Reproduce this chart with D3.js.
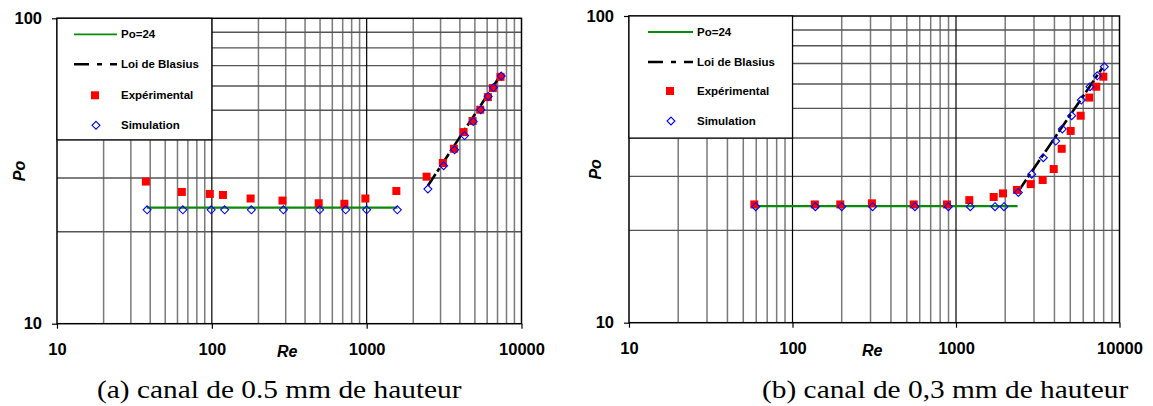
<!DOCTYPE html>
<html>
<head>
<meta charset="utf-8">
<script src="https://cdn.jsdelivr.net/npm/d3@7"></script>
<style>
  body { margin: 0; background: #fff; }
  text { font-family: "Liberation Sans", Arial, sans-serif; }
</style>
</head>
<body>
<svg width="1153" height="406"></svg>
<script>
// (a) canal de 0.5 mm
var expReA = [37.5, 64, 97, 118, 178, 286, 490, 718, 981, 1555, 2438, 3106, 3659, 4225, 4830, 5414, 6062, 6531, 7318];
var expPoA = [29.2, 27.0, 26.6, 26.4, 25.7, 25.3, 24.8, 24.7, 25.7, 27.2, 30.3, 33.6, 37.4, 42.4, 46.1, 50.2, 55.2, 59.1, 64.3];
var simReA = [38.2, 65, 99, 121, 180, 290, 497, 732, 1000, 1578, 2486, 3140, 3698, 4288, 4877, 5460, 6096, 6593, 7396];
var simPoA = [23.6, 23.6, 23.6, 23.6, 23.6, 23.6, 23.6, 23.6, 23.6, 23.6, 27.6, 32.9, 37.1, 41.3, 45.9, 50.2, 55.5, 59.3, 64.7];
var lamReA = [38, 1580], lamPoA = [24, 24];
var blaReA = [2486, 7300], blaPoA = [28.3, 65.0];

// (b) canal de 0,3 mm
var expReB = [58.4, 137, 196, 306, 551, 881, 1206, 1701, 1939, 2361, 2864, 3390, 3960, 4431, 5029, 5790, 6537, 7211, 7962];
var expPoB = [24.3, 24.3, 24.3, 24.5, 24.3, 24.3, 25.1, 25.7, 26.4, 27.1, 28.3, 29.2, 31.7, 36.9, 42.2, 47.3, 54.2, 58.8, 63.4];
var simReB = [59.6, 138, 200, 309, 561, 898, 1223, 1732, 1966, 2404, 2904, 3420, 4073, 4467, 5101, 5840, 6601, 7315, 8075];
var simPoB = [23.9, 23.9, 23.9, 23.9, 23.9, 23.9, 23.9, 23.9, 23.9, 26.6, 30.5, 34.5, 39.1, 42.8, 47.3, 53.2, 58.8, 63.8, 68.3];
var lamReB = [59, 2380], lamPoB = [24, 24];
var blaReB = [2404, 7850], blaPoB = [26.8, 67.7];

var xTicks = [10, 100, 1000, 10000],
    yTicks = [10, 100];
var legendNames = ["Po=24", "Loi de Blasius", "Expérimental", "Simulation"];

var svg = d3.select("svg");

function zip(a, b) {
  return a.map(function(v, i) { return [v, b[i]]; });
}

function drawChart(cfg) {
  var x = d3.scaleLog().domain([10, 10000]).range(cfg.xr),
      y = d3.scaleLog().domain([10, 100]).range(cfg.yr);
  var g = svg.append("g");

  // grid
  g.append("g").selectAll("line")
    .data(x.ticks().filter(function(d) { return xTicks.indexOf(d) < 0; }))
    .enter().append("line")
      .attr("x1", function(d) { return x(d); }).attr("x2", function(d) { return x(d); })
      .attr("y1", cfg.yr[0]).attr("y2", cfg.yr[1])
      .attr("stroke", "#7a7a7a").attr("stroke-width", 1.5);
  g.append("g").selectAll("line")
    .data(y.ticks().filter(function(d) { return yTicks.indexOf(d) < 0; }))
    .enter().append("line")
      .attr("x1", cfg.xr[0]).attr("x2", cfg.xr[1])
      .attr("y1", function(d) { return y(d); }).attr("y2", function(d) { return y(d); })
      .attr("stroke", "#555").attr("stroke-width", 1.4);
  g.append("g").selectAll("line")
    .data([100, 1000])
    .enter().append("line")
      .attr("x1", function(d) { return x(d); }).attr("x2", function(d) { return x(d); })
      .attr("y1", cfg.yr[0]).attr("y2", cfg.yr[1])
      .attr("stroke", "#000").attr("stroke-width", 1.2);

  g.append("rect")
    .attr("x", cfg.xr[0]).attr("y", cfg.yr[1])
    .attr("width", cfg.xr[1] - cfg.xr[0]).attr("height", cfg.yr[0] - cfg.yr[1])
    .attr("fill", "none").attr("stroke", "#000").attr("stroke-width", 1.5);

  // axes
  var ax = g.append("g")
      .attr("transform", "translate(0," + cfg.yr[0] + ")")
      .call(d3.axisBottom(x).tickValues(xTicks).tickFormat(d3.format("d")).tickSize(5).tickPadding(15));
  var ay = g.append("g")
      .attr("transform", "translate(" + cfg.xr[0] + ",0)")
      .call(d3.axisLeft(y).tickValues(yTicks).tickFormat(d3.format("d")).tickSize(5).tickPadding(10));
  [ax, ay].forEach(function(a) {
    a.select(".domain").remove();
    a.selectAll("line").attr("stroke", "#000").attr("stroke-width", 1.2);
    a.selectAll("text")
      .style("font-family", "'Liberation Sans', Arial, sans-serif")
      .style("font-size", "16.5px").style("font-weight", "bold").attr("fill", "#000");
  });

  g.append("text")
    .attr("x", (cfg.xr[0] + cfg.xr[1]) / 2 - 2).attr("y", cfg.yr[0] + 33)
    .attr("text-anchor", "middle")
    .style("font-size", "16px").style("font-weight", "bold").style("font-style", "italic")
    .text("Re");
  g.append("text")
    .attr("transform", "translate(" + cfg.poX + "," + (cfg.yr[0] + cfg.yr[1]) / 2 + ") rotate(-90)")
    .attr("dy", "0.35em")
    .attr("text-anchor", "middle")
    .style("font-size", "16px").style("font-weight", "bold").style("font-style", "italic")
    .text("Po");

  // series
  var line = d3.line()
      .x(function(d) { return x(d[0]); })
      .y(function(d) { return y(d[1]); });

  g.append("path")
    .attr("d", line(zip(cfg.lamRe, cfg.lamPo)))
    .attr("fill", "none").attr("stroke", "#0a8a0a").attr("stroke-width", 2.2);
  g.append("path")
    .attr("d", line(zip(cfg.blaRe, cfg.blaPo)))
    .attr("fill", "none").attr("stroke", "#000").attr("stroke-width", 2.6)
    .attr("stroke-dasharray", "14,3,4,3");

  g.append("g").selectAll("rect")
    .data(zip(cfg.expRe, cfg.expPo))
    .enter().append("rect")
      .attr("x", function(d) { return x(d[0]) - 4; })
      .attr("y", function(d) { return y(d[1]) - 4; })
      .attr("width", 8).attr("height", 8)
      .attr("fill", "#ff0000");

  var diamond = d3.symbol().type(d3.symbolDiamond2).size(40);
  g.append("g").selectAll("path")
    .data(zip(cfg.simRe, cfg.simPo))
    .enter().append("path")
      .attr("d", diamond)
      .attr("transform", function(d) { return "translate(" + x(d[0]) + "," + y(d[1]) + ")"; })
      .attr("fill", "none").attr("stroke", "#0000ff").attr("stroke-width", 1.1);

  // legend
  var lx = x(10), ly = y(100);
  var lg = g.append("g").attr("transform", "translate(" + lx + "," + ly + ")");
  lg.append("rect")
    .attr("width", x(100) - x(10)).attr("height", y(40) - y(100))
    .attr("fill", "#fff").attr("stroke", "#000").attr("stroke-width", 1.2);
  var rows = cfg.legRows;
  lg.append("line")
    .attr("x1", cfg.legLine[0]).attr("x2", cfg.legLine[1]).attr("y1", rows[0]).attr("y2", rows[0])
    .attr("stroke", "#0a8a0a").attr("stroke-width", 1.8);
  lg.append("line")
    .attr("x1", cfg.legLine[0]).attr("x2", cfg.legLine[1]).attr("y1", rows[1]).attr("y2", rows[1])
    .attr("stroke", "#000").attr("stroke-width", 2.6).attr("stroke-dasharray", "15,8,5,8");
  lg.append("rect")
    .attr("x", cfg.legMark - 4).attr("y", rows[2] - 4).attr("width", 8).attr("height", 8)
    .attr("fill", "#ff0000");
  lg.append("path")
    .attr("d", diamond)
    .attr("transform", "translate(" + (cfg.legMark + 1) + "," + rows[3] + ")")
    .attr("fill", "none").attr("stroke", "#0000ff").attr("stroke-width", 1.1);
  lg.selectAll("text.leg")
    .data(legendNames)
    .enter().append("text")
      .attr("class", "leg")
      .attr("x", cfg.legLine[1] + 4)
      .attr("y", function(d, i) { return rows[i]; })
      .attr("dy", "0.36em")
      .style("font-size", "11.5px").style("font-weight", "bold")
      .text(function(d) { return d; });

  svg.append("text")
    .attr("transform", "translate(" + cfg.capX + ",398) scale(1.13,1)")
    .style("font-family", "'Liberation Serif', 'Times New Roman', serif")
    .style("font-size", "26px")
    .text(cfg.caption);
}

drawChart({
  xr: [57, 521.5], yr: [323.7, 18.3], poX: 19,
  expRe: expReA, expPo: expPoA, simRe: simReA, simPo: simPoA,
  lamRe: lamReA, lamPo: lamPoA, blaRe: blaReA, blaPo: blaPoA,
  legRows: [16, 46, 77, 107], legLine: [17, 60], legMark: 38,
  capX: 97, caption: "(a) canal de 0.5 mm de hauteur"
});
drawChart({
  xr: [629, 1119.5], yr: [322.7, 16], poX: 595,
  expRe: expReB, expPo: expPoB, simRe: simReB, simPo: simPoB,
  lamRe: lamReB, lamPo: lamPoB, blaRe: blaReB, blaPo: blaPoB,
  legRows: [16, 46, 75, 105], legLine: [19, 64], legMark: 41,
  capX: 762, caption: "(b) canal de 0,3 mm de hauteur"
});
</script>
</body>
</html>
